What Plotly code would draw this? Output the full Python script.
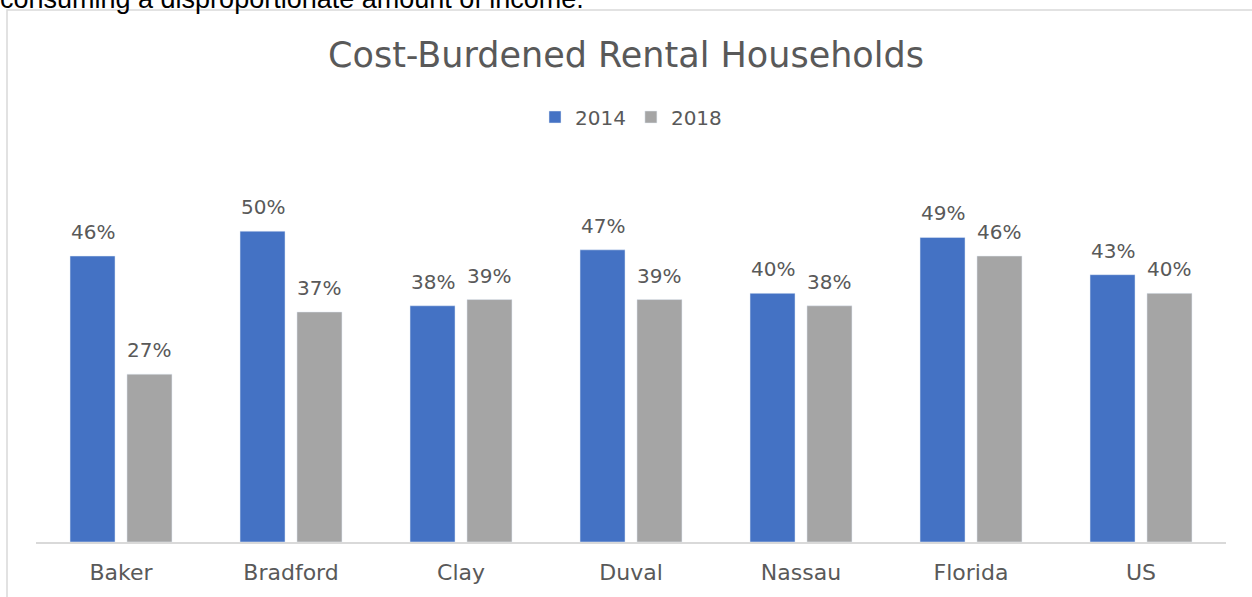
import plotly.graph_objects as go

counties = ["Baker", "Bradford", "Clay", "Duval", "Nassau", "Florida", "US"]
pct_2014 = [46, 50, 38, 47, 40, 49, 43]
pct_2018 = [27, 37, 39, 39, 38, 46, 40]

W, H = 1252, 597
L, R, T, B = 36, 26, 169, 55
pw, ph = W - L - R, H - T - B

def px_x(x):
    return (x - L) / pw

def px_y(y):
    return (H - B - y) / ph

font = "DejaVu Sans"
grey_txt = "#595959"
BARGAP = 0.33

fig = go.Figure()
fig.add_trace(go.Bar(name="2014", x=counties, y=pct_2014, marker_color="#4472C4"))
fig.add_trace(go.Bar(name="2018", x=counties, y=pct_2018, marker_color="#A5A5A5"))

# data labels, sitting a little above each bar
slot = pw / len(counties) * (1 - BARGAP) / 2
for vals, shift in [(pct_2014, -slot / 2), (pct_2018, slot / 2)]:
    for c, v in zip(counties, vals):
        fig.add_annotation(x=c, y=v, text=f"{v}%", showarrow=False,
                           xshift=shift, yshift=10, yanchor="bottom",
                           font=dict(size=20, color=grey_txt))

# chart frame
fig.add_shape(type="rect", xref="paper", yref="paper",
              x0=px_x(7), x1=px_x(1260), y0=px_y(10), y1=px_y(620),
              line=dict(color="#D9D9D9", width=1.5), layer="below")

# cut-off sentence above the chart
fig.add_annotation(text="consuming a disproportionate amount of income.",
                   xref="paper", yref="paper", x=px_x(-2), y=px_y(-1),
                   xanchor="left", yanchor="middle", showarrow=False,
                   font=dict(family="Liberation Sans", size=27, color="#000000"))

fig.update_layout(
    width=W, height=H,
    margin=dict(l=L, r=R, t=T, b=B),
    paper_bgcolor="white", plot_bgcolor="white",
    font=dict(family=font, color=grey_txt),
    title=dict(text="Cost-Burdened Rental Households", x=0.5, xanchor="center",
               y=1 - 55 / H, yanchor="middle",
               font=dict(size=35, color=grey_txt)),
    legend=dict(orientation="h", x=0.5, xanchor="center",
                y=px_y(117), yanchor="middle",
                font=dict(size=20, color=grey_txt), itemwidth=30),
    bargap=BARGAP, bargroupgap=0.21,
    showlegend=True,
)
fig.update_xaxes(showline=True, linecolor="#D9D9D9", linewidth=1.5,
                 ticks="", ticklabelstandoff=10,
                 tickfont=dict(size=22, color=grey_txt))
fig.update_yaxes(range=[0, 60], visible=False, showgrid=False)

fig.write_html("out.html", config={"displayModeBar": False},
               post_script="document.body.style.margin='0';")
